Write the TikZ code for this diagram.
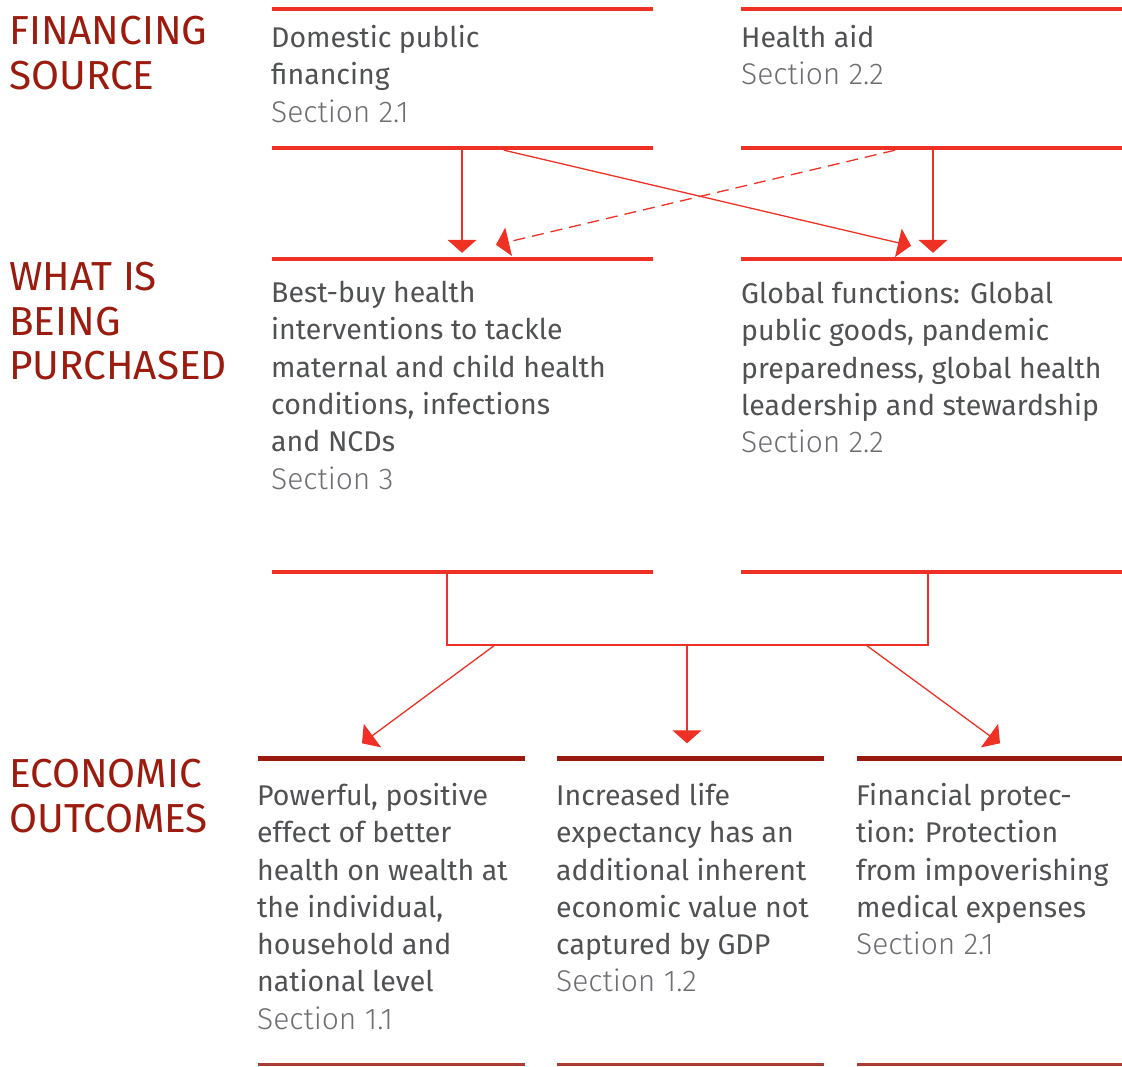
\documentclass[tikz,border=0pt]{standalone}
\usepackage{fontspec}
\setmainfont{Fira Sans}
\newfontfamily\lightfont{Fira Sans Light}
\usetikzlibrary{arrows.meta}
\definecolor{barred}{HTML}{EE3124}
\definecolor{darkbar}{HTML}{9A1A0F}
\definecolor{headred}{HTML}{9B1B0E}
\definecolor{textgray}{HTML}{505153}
\definecolor{secgray}{HTML}{6D6E71}
\newcommand{\sect}[1]{{\lightfont\fontsize{30}{37.3}\selectfont\color{secgray}#1}}

\begin{document}
\begin{tikzpicture}[x=1pt,y=-1pt,
    bar/.style={fill=barred,inner sep=0,minimum height=4pt,minimum width=381pt,anchor=west},
    outbar/.style={fill=darkbar,inner sep=0,minimum height=5pt,minimum width=267pt,anchor=west},
    endbar/.style={fill=darkbar!85!white,inner sep=0,minimum height=3pt,minimum width=267pt,anchor=west},
    head/.style={anchor=north west,inner sep=0,align=left,text=headred,font=\fontsize{40.5}{44.5}\selectfont},
    body/.style={anchor=north west,inner sep=0,align=left,text=textgray,font=\fontsize{28.5}{37.3}\selectfont},
    line/.style={draw=barred,line width=1.3pt},
    link/.style={line,-{Triangle[width=29pt,length=13pt]}}]
  \useasboundingbox (0,0) rectangle (1122,1066);
  \node[head] (fsHead) at (9,16) {FINANCING\\SOURCE};
  \node[head] (wpHead) at (9,262) {WHAT IS\\BEING\\PURCHASED};
  \node[head] (eoHead) at (9,759) {ECONOMIC\\OUTCOMES};
  \node[bar] (dpTop) at (272,9) {};
  \node[bar] (dpBot) at (272,148) {};
  \node[bar] (haTop) at (741,9) {};
  \node[bar] (haBot) at (741,148) {};
  \node[bar] (bbTop) at (272,259) {};
  \node[bar] (bbBot) at (272,572) {};
  \node[bar] (gfTop) at (741,259) {};
  \node[bar] (gfBot) at (741,572) {};
  \node[outbar] (pwTop) at (258,758) {};
  \node[outbar] (ieTop) at (557,758) {};
  \node[outbar,minimum width=265pt] (fpTop) at (857,758) {};
  \node[endbar] (pwEnd) at (258,1064) {};
  \node[endbar] (ieEnd) at (557,1064) {};
  \node[endbar,minimum width=265pt] (fpEnd) at (857,1064) {};
  \node[body] (dpText) at (271,25) {Domestic public\\financing\\\sect{Section 2.1}};
  \node[body] (haText) at (741,25) {Health aid\\\sect{Section 2.2}};
  \node[body] (bbText) at (271,281) {Best-buy health\\interventions to tackle\\maternal and child health\\conditions, infections\\and NCDs\\\sect{Section 3}};
  \node[body] (gfText) at (741,281) {Global functions: Global\\public goods, pandemic\\preparedness, global health\\leadership and stewardship\\\sect{Section 2.2}};
  \node[body] (pwText) at (257,783) {Powerful, positive\\effect of better\\health on wealth at\\the individual,\\household and\\national level\\\sect{Section 1.1}};
  \node[body] (ieText) at (556,783) {Increased life\\expectancy has an\\additional inherent\\economic value not\\captured by GDP\\\sect{Section 1.2}};
  \node[body] (fpText) at (856,783) {Financial protec-\\tion: Protection\\from impoverishing\\medical expenses\\\sect{Section 2.1}};
  \draw[link] ([xshift=190pt]dpBot.south west) -- ([xshift=190pt,yshift=4pt]bbTop.north west);
  \draw[link] ([xshift=232pt]dpBot.south west) -- ([xshift=170pt,yshift=11pt]gfTop.north west);
  \draw[link,dash pattern=on 12pt off 7pt] ([xshift=154pt]haBot.south west) -- ([xshift=224pt,yshift=12pt]bbTop.north west);
  \draw[link] ([xshift=192pt]haBot.south west) -- ([xshift=192pt,yshift=4pt]gfTop.north west);
  \coordinate (hub) at (687,645);
  \draw[line] ([xshift=175pt]bbBot.south west) |- (hub) -| ([xshift=187pt]gfBot.south west);
  \draw[link] ([xshift=-192pt]hub) -- ([xshift=104pt,yshift=12pt]pwTop.north west);
  \draw[link] (hub) -- ([xshift=130pt,yshift=12pt]ieTop.north west);
  \draw[link] ([xshift=179pt]hub) -- ([xshift=143pt,yshift=12pt]fpTop.north west);
\end{tikzpicture}
\end{document}
